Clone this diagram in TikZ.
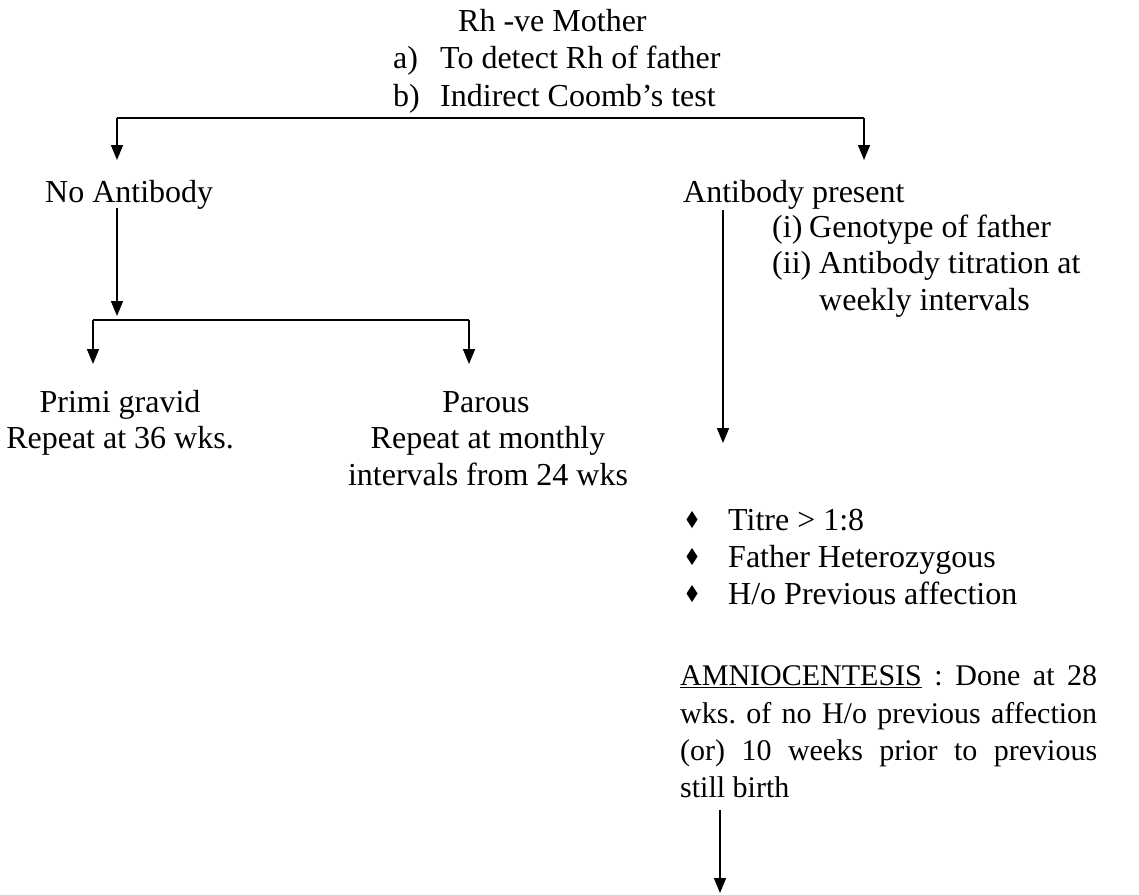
\documentclass[tikz,border=0pt]{standalone}
\usepackage{fontspec}
\setmainfont{Liberation Serif}
\usetikzlibrary{arrows.meta}
\begin{document}
\frenchspacing
\begin{tikzpicture}[x=1pt,y=-1pt,
  txt/.style={font=\fontsize{32}{37}\selectfont, inner sep=0pt, anchor=base west},
  ctxt/.style={font=\fontsize{32}{37}\selectfont, inner sep=0pt, anchor=base},
  ptxt/.style={font=\fontsize{30}{37}\selectfont, inner sep=0pt, anchor=base west},
  ln/.style={line width=1.6pt},
  arr/.style={line width=1.6pt, -{Triangle[width=12pt,length=15pt]}}]
\useasboundingbox (0,0) rectangle (1139,894);
\fill[white] (0,0) rectangle (1139,894);

% header
\node[txt] (title) at (458,31) {Rh -ve Mother};
\node[txt] (la) at (393,68) {a)};
\node[txt] (ta) at (440,68) {To detect Rh of father};
\node[txt] (lb) at (393,106) {b)};
\node[txt] (tb) at (440,106) {Indirect Coomb’s test};

% first split
\coordinate (sl) at (117,118);
\coordinate (sr) at (864,118);
\coordinate (noIn) at (117,160);
\coordinate (yesIn) at (864,160);
\draw[ln] (sl) -- (sr);
\draw[arr] (sl) -- (noIn);
\draw[arr] (sr) -- (yesIn);

% no antibody branch
\node[txt] (noab) at (45,202) {No Antibody};
\coordinate (noOut) at (117,208);
\coordinate (noEnd) at (117,316);
\draw[arr] (noOut) -- (noEnd);
\coordinate (s2l) at (93,320);
\coordinate (s2r) at (469,320);
\coordinate (primIn) at (93,364);
\coordinate (parIn) at (469,364);
\draw[ln] (s2l) -- (s2r);
\draw[arr] (s2l) -- (primIn);
\draw[arr] (s2r) -- (parIn);

\node[ctxt] (prim1) at (120,412) {Primi gravid};
\node[ctxt] (prim2) at (120,448) {Repeat at 36 wks.};
\node[ctxt] (par1) at (486,412) {Parous};
\node[ctxt] (par2) at (488,448) {Repeat at monthly};
\node[ctxt] (par3) at (488,485) {intervals from 24 wks};

% antibody present branch
\node[txt] (yesab) at (683,202) {Antibody present};
\node[txt] (li) at (772,237) {(i)};
\node[txt] (ti) at (809,237) {Genotype of father};
\node[txt] (lii) at (772,273) {(ii)};
\node[txt] (tii) at (819,273) {Antibody titration at};
\node[txt] (tii2) at (819,310) {weekly intervals};
\coordinate (yesOut) at (723,210);
\coordinate (critIn) at (723,443);
\draw[arr] (yesOut) -- (critIn);

% criteria
\node[txt] (c1) at (728,530) {Titre > 1:8};
\node[txt] (c2) at (728,567) {Father Heterozygous};
\node[txt] (c3) at (728,604) {H/o Previous affection};
\foreach \yy in {530,567,604}
  \fill (692,\yy-19) -- ++(5.5,8.5) -- ++(-5.5,8.5) -- ++(-5.5,-8.5) -- cycle;

% amniocentesis
\node[ptxt] (am1) at (680,685) {\makebox[417pt][s]{\underline{AMNIOCENTESIS} : Done at 28}};
\node[ptxt] (am2) at (680,723) {\makebox[417pt][s]{wks. of no H/o previous affection}};
\node[ptxt] (am3) at (680,760) {\makebox[417pt][s]{(or) 10 weeks prior to previous}};
\node[ptxt] (am4) at (680,797) {still birth};
\coordinate (amOut) at (720,810);
\coordinate (amEnd) at (720,893);
\draw[arr] (amOut) -- (amEnd);
\end{tikzpicture}
\end{document}
